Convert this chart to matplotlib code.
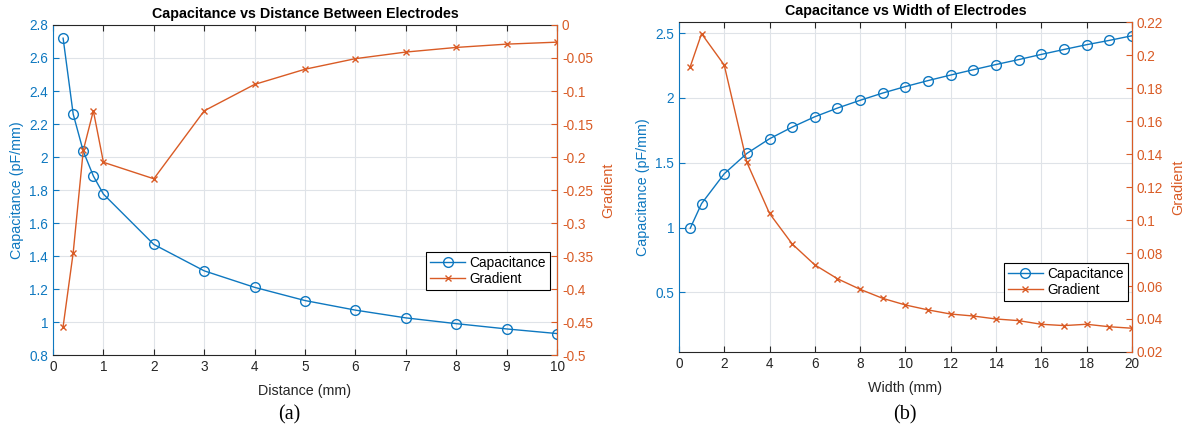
import matplotlib.pyplot as plt

plt.rcParams['font.family'] = ['Liberation Sans', 'DejaVu Sans']

BLUE = "#0e78c0"
ORANGE = "#d95b25"
DARK = "#262626"

# (a) capacitance vs distance between electrodes
dist = [0.2, 0.4, 0.6, 0.8, 1, 2, 3, 4, 5, 6, 7, 8, 9, 10]
cap_dist = [2.72, 2.26, 2.035, 1.885, 1.775, 1.47, 1.31, 1.21, 1.13, 1.072,
            1.025, 0.99, 0.958, 0.93]
grad_dist = [-0.457, -0.345, -0.19, -0.13, -0.208, -0.233, -0.13, -0.09,
             -0.067, -0.051, -0.041, -0.034, -0.029, -0.026]

# (b) capacitance vs width of electrodes
width = [0.5, 1, 2, 3, 4, 5, 6, 7, 8, 9, 10, 11, 12, 13, 14, 15, 16, 17, 18, 19, 20]
cap_width = [0.995, 1.185, 1.415, 1.572, 1.685, 1.775, 1.855, 1.922, 1.982, 2.038,
             2.088, 2.134, 2.177, 2.218, 2.258, 2.296, 2.336, 2.374, 2.411, 2.444, 2.48]
grad_width = [0.193, 0.213, 0.194, 0.135, 0.104, 0.0855, 0.0728, 0.0644, 0.058,
              0.0525, 0.0485, 0.0455, 0.043, 0.0418, 0.040, 0.039, 0.0368, 0.036,
              0.0368, 0.0353, 0.0344]


def style_axes(ax, ax2):
    ax.grid(True, color="#dfe3e8", linewidth=0.8)
    ax.set_axisbelow(True)
    ax.tick_params(direction="in", length=4, labelsize=9.8, top=True)
    ax.tick_params(axis="x", colors=DARK, labelcolor=DARK)
    ax.tick_params(axis="y", colors=BLUE, labelcolor=BLUE)
    ax2.tick_params(direction="in", length=4, labelsize=9.8, colors=ORANGE)
    for s in ["top", "bottom"]:
        ax.spines[s].set_color(DARK)
    ax.spines["left"].set_color(BLUE)
    ax2.spines["right"].set_color(ORANGE)
    for s in ["top", "bottom", "left"]:
        ax2.spines[s].set_visible(False)


def panel(rect, x, cap, grad, title, xlabel, xlim, xticks, ylim, yticks, ylim2, yticks2,
          leg_anchor, tag, tag_x, pad2):
    ax = fig.add_axes(rect)
    ax2 = ax.twinx()
    l1, = ax.plot(x, cap, color=BLUE, marker="o", markersize=7, mfc="none",
                  linewidth=1, label="Capacitance")
    l2, = ax2.plot(x, grad, color=ORANGE, marker="x", markersize=5,
                   linewidth=1, label="Gradient")
    ax.set_xlim(*xlim)
    ax.set_xticks(xticks)
    ax.set_ylim(*ylim)
    ax.set_yticks(yticks)
    ax.set_yticklabels([f"{v:g}" for v in yticks])
    ax2.set_ylim(*ylim2)
    ax2.set_yticks(yticks2)
    ax2.set_yticklabels([f"{v:g}" for v in yticks2])
    ax.set_title(title, fontsize=10.3, fontweight="bold", pad=5)
    ax.set_xlabel(xlabel, fontsize=10.3, color=DARK, labelpad=7)
    ax.set_ylabel("Capacitance (pF/mm)", fontsize=10.3, color=BLUE)
    ax2.set_ylabel("Gradient", fontsize=10.3, color=ORANGE, labelpad=pad2)
    style_axes(ax, ax2)
    leg = ax2.legend([l1, l2], ["Capacitance", "Gradient"], loc="lower right",
                     bbox_to_anchor=leg_anchor, borderaxespad=0, fontsize=9.8,
                     fancybox=False, framealpha=1, edgecolor="black", borderpad=0.3,
                     handlelength=2.6, labelspacing=0.15, handletextpad=0.3)
    leg.get_frame().set_linewidth(0.8)
    fig.text(tag_x, 0.045, tag, family="Liberation Serif", fontsize=14.5,
             ha="center", va="center")


fig = plt.figure(figsize=(11.89, 4.34), dpi=100)

panel([0.0446, 0.182, 0.4239, 0.7604], dist, cap_dist, grad_dist,
      "Capacitance vs Distance Between Electrodes", "Distance (mm)",
      (0, 10), range(0, 11), (0.8, 2.8), [0.8 + 0.2 * i for i in range(11)],
      (-0.5, 0), [round(-0.5 + 0.05 * i, 2) for i in range(11)],
      (0.986, 0.197), "(a)", 0.243, 6)

panel([0.571, 0.189, 0.381, 0.760], width, cap_width, grad_width,
      "Capacitance vs Width of Electrodes", "Width (mm)",
      (0, 20), range(0, 21, 2), (0.04, 2.585), [0.5, 1, 1.5, 2, 2.5],
      (0.02, 0.22), [round(0.02 + 0.02 * i, 2) for i in range(11)],
      (0.991, 0.155), "(b)", 0.761, 6)

fig.savefig("out.png", dpi=100)
